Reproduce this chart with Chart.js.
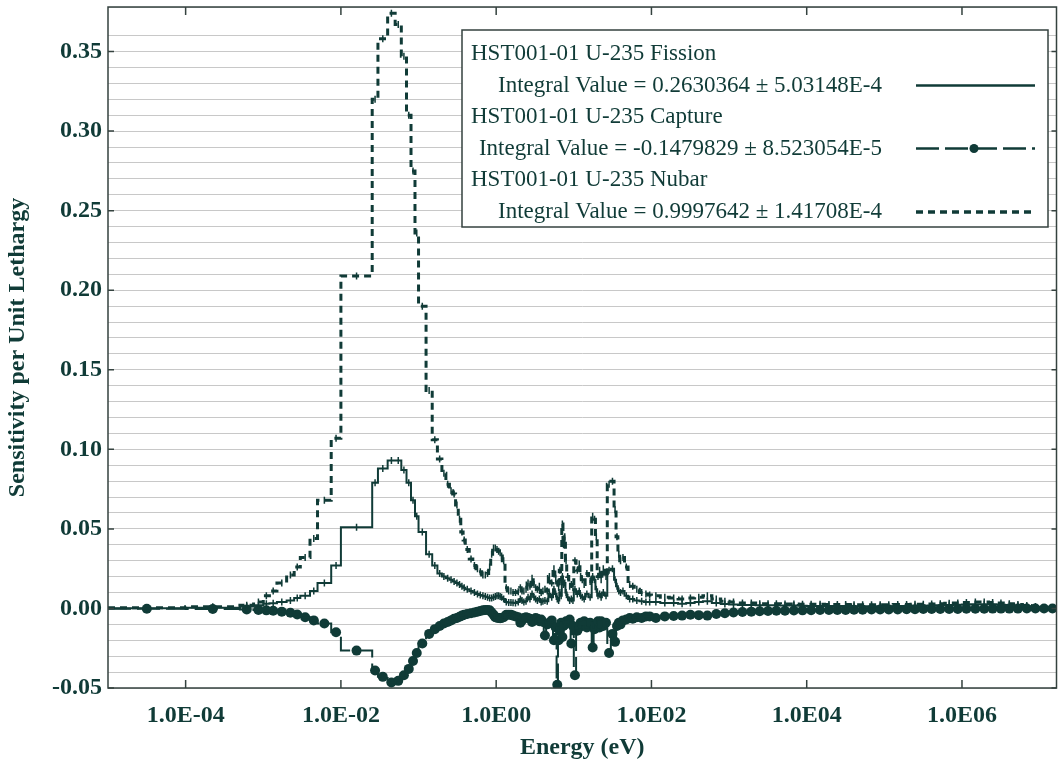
<!DOCTYPE html>
<html>
<head>
<meta charset="utf-8">
<title>HST001-01 U-235 Sensitivity</title>
<script src="https://cdn.jsdelivr.net/npm/chart.js@4.4.1/dist/chart.umd.min.js"></script>
<style>
  html, body { margin: 0; padding: 0; background: #ffffff; }
  #chart { display: block; }
</style>
</head>
<body>
<canvas id="chart" width="1062" height="767"></canvas>
<script>
// Energy group boundaries (eV)
const energyEdges = [
  1e-5, 1e-4, 5e-4, 7.5e-4, 1e-3, 1.2e-3, 1.5e-3, 2e-3, 2.5e-3, 3e-3,
  4e-3, 5e-3, 7.5e-3, 1e-2, 2.53e-2, 3e-2, 4e-2, 5e-2, 6e-2, 7e-2,
  8e-2, 9e-2, 0.1, 0.125, 0.15, 0.175, 0.2, 0.225, 0.25, 0.275,
  0.3, 0.325, 0.35, 0.375, 0.4, 0.45, 0.5, 0.55, 0.6, 0.65,
  0.7, 0.75, 0.8, 0.85, 0.9, 0.95, 1.0, 1.05, 1.1, 1.15,
  1.2, 1.3, 1.4, 1.5,
  1.6, 1.7, 1.85, 2.0, 2.1, 2.2, 2.35, 2.5, 2.65, 2.8,
  3.0, 3.15, 3.3, 3.5, 3.7, 3.9, 4.1, 4.4, 4.7, 5.0,
  5.4, 5.7, 6.0, 6.25, 6.5, 6.75, 7.0, 7.25, 7.5, 7.8,
  8.1, 8.6, 9.1, 9.5, 10, 10.7, 11.5, 12, 12.5, 13.2,
  14, 15.5, 17, 18, 19, 20, 21, 22, 23, 25,
  27, 30, 33, 35, 37, 39, 41, 45, 50, 55,
  60, 70, 80, 90, 100,
  130, 170, 220, 280, 360, 460, 600, 780, 1000, 1300,
  1700, 2200, 2800, 3600, 4600, 6000, 7800, 1e4, 1.3e4, 1.7e4,
  2.2e4, 2.8e4, 3.6e4, 4.6e4, 6e4, 7.8e4, 1e5, 1.3e5, 1.7e5, 2.2e5,
  2.8e5, 3.6e5, 4.6e5, 6e5, 7.8e5, 1e6, 1.3e6, 1.7e6, 2.2e6, 2.8e6,
  3.6e6, 4.6e6, 6e6, 7.8e6, 1e7, 1.3e7, 1.65e7
];

// Sensitivity per unit lethargy, one value per group
const fissionValues = [
  0.0002, 0.0005, 0.0012, 0.002, 0.003, 0.0032, 0.004, 0.005, 0.0065, 0.008,
  0.011, 0.016, 0.027, 0.051, 0.079, 0.088, 0.093, 0.093, 0.087, 0.079,
  0.068, 0.058, 0.048, 0.034, 0.027, 0.022, 0.020, 0.019, 0.018, 0.017,
  0.016, 0.015, 0.014, 0.013, 0.012, 0.011, 0.010, 0.009, 0.0085, 0.008,
  0.0075, 0.007, 0.0065, 0.0065, 0.007, 0.0075, 0.008, 0.008, 0.0075, 0.007,
  0.006, 0.004, 0.0038,
  0.0038, 0.0036, 0.0035, 0.004, 0.006, 0.005, 0.004, 0.0045, 0.007, 0.006,
  0.009, 0.007, 0.006, 0.005, 0.006, 0.004, 0.0045, 0.005, 0.0045, 0.009,
  0.007, 0.012, 0.009, 0.006, 0.005, 0.010, 0.008, 0.020, 0.015, 0.016,
  0.010, 0.007, 0.005, 0.006, 0.005, 0.012, 0.009, 0.011, 0.008, 0.007,
  0.006, 0.009, 0.007, 0.020, 0.018, 0.012, 0.008, 0.009, 0.007, 0.010,
  0.008, 0.024, 0.025, 0.018, 0.014, 0.011, 0.010, 0.011, 0.008, 0.006,
  0.006, 0.005, 0.0045, 0.004, 0.004,
  0.004, 0.0035, 0.0035, 0.003, 0.0035, 0.004, 0.0045, 0.0035, 0.0028, 0.0025,
  0.0022, 0.0022, 0.002, 0.002, 0.002, 0.0018, 0.0018, 0.0017, 0.0016, 0.0016,
  0.0015, 0.0015, 0.0015, 0.0014, 0.0014, 0.0014, 0.0014, 0.0014, 0.0015, 0.0015,
  0.0016, 0.0017, 0.0018, 0.002, 0.0021, 0.0023, 0.0025, 0.0027, 0.0027, 0.0026,
  0.0024, 0.0021, 0.0017, 0.0012, 0.0008, 0.0004, 0.0002
];

const captureValues = [
  -0.0002, -0.0004, -0.0006, -0.0009, -0.0012, -0.0015, -0.002, -0.0027, -0.0038, -0.0055,
  -0.0075, -0.0095, -0.015, -0.0265, -0.039, -0.043, -0.0465, -0.0455, -0.042, -0.038,
  -0.033, -0.028, -0.022, -0.016, -0.013, -0.011, -0.0095, -0.0085, -0.0075, -0.0065,
  -0.006, -0.0052, -0.0045, -0.004, -0.0035, -0.003, -0.0025, -0.002, -0.0016, -0.0012,
  -0.001, -0.001, -0.0012, -0.0025, -0.004, -0.0055, -0.0058, -0.006, -0.0062, -0.006,
  -0.0055, -0.004, -0.004,
  -0.004, -0.0045, -0.005, -0.0055, -0.009, -0.0075, -0.006, -0.0055, -0.006, -0.0065,
  -0.0085, -0.0075, -0.006, -0.0065, -0.008, -0.007, -0.0085, -0.017, -0.010, -0.009,
  -0.0075, -0.020, -0.012, -0.048, -0.020, -0.014, -0.009, -0.018, -0.011, -0.010,
  -0.008, -0.009, -0.007, -0.022, -0.011, -0.042, -0.014, -0.012, -0.009, -0.010,
  -0.008, -0.012, -0.009, -0.0245, -0.013, -0.010, -0.008, -0.012, -0.008, -0.011,
  -0.009, -0.028, -0.016, -0.021, -0.011, -0.009, -0.010, -0.0075, -0.007, -0.006,
  -0.0065, -0.0055, -0.006, -0.005, -0.005,
  -0.006, -0.005, -0.0048, -0.0045, -0.004, -0.0042, -0.0045, -0.0035, -0.003, -0.0025,
  -0.0022, -0.002, -0.0018, -0.0016, -0.0015, -0.0014, -0.0013, -0.0012, -0.0011, -0.001,
  -0.001, -0.0009, -0.0009, -0.0008, -0.0008, -0.0007, -0.0007, -0.0006, -0.0006, -0.0005,
  -0.0005, -0.0004, -0.0004, -0.0003, -0.0003, -0.0003, -0.0002, -0.0002, -0.0002, -0.0001,
  -0.0001, -0.0001, -0.0001, 0, 0, 0, 0
];

const nubarValues = [
  0.0004, 0.001, 0.002, 0.004, 0.008, 0.011, 0.016, 0.021, 0.026, 0.032,
  0.044, 0.068, 0.107, 0.209, 0.320, 0.358, 0.374, 0.367, 0.347, 0.310,
  0.275, 0.236, 0.190, 0.137, 0.106, 0.094, 0.085, 0.078, 0.074, 0.072,
  0.065, 0.056, 0.048, 0.043, 0.037, 0.031, 0.027, 0.025, 0.023, 0.021,
  0.021, 0.022, 0.026, 0.034, 0.038, 0.038, 0.037, 0.036, 0.035, 0.033,
  0.030, 0.013, 0.011,
  0.011, 0.010, 0.010, 0.0105, 0.013, 0.011, 0.011, 0.012, 0.016, 0.014,
  0.019, 0.015, 0.013, 0.012, 0.014, 0.010, 0.011, 0.012, 0.011, 0.020,
  0.016, 0.025, 0.019, 0.016, 0.013, 0.024, 0.018, 0.053, 0.040, 0.045,
  0.030, 0.020, 0.014, 0.015, 0.013, 0.030, 0.024, 0.028, 0.020, 0.018,
  0.015, 0.022, 0.017, 0.058, 0.056, 0.045, 0.020, 0.024, 0.018, 0.025,
  0.020, 0.078, 0.080, 0.062, 0.045, 0.034, 0.030, 0.032, 0.026, 0.015,
  0.014, 0.012, 0.010, 0.009, 0.0085,
  0.008, 0.007, 0.0065, 0.006, 0.0065, 0.007, 0.008, 0.006, 0.0045, 0.004,
  0.0035, 0.0035, 0.003, 0.003, 0.003, 0.0028, 0.0028, 0.0027, 0.0026, 0.0026,
  0.0025, 0.0025, 0.0025, 0.0024, 0.0024, 0.0024, 0.0024, 0.0024, 0.0025, 0.0025,
  0.0026, 0.0027, 0.0028, 0.003, 0.0032, 0.0035, 0.0038, 0.004, 0.004, 0.0038,
  0.0035, 0.003, 0.0025, 0.0018, 0.0012, 0.0006, 0.0003
];

const seriesLabels = [
  'HST001-01 U-235 Fission',
  'HST001-01 U-235 Capture',
  'HST001-01 U-235 Nubar'
];
const integralTexts = [
  'Integral Value = 0.2630364 \u00b1 5.03148E-4',
  'Integral Value = -0.1479829 \u00b1 8.523054E-5',
  'Integral Value = 0.9997642 \u00b1 1.41708E-4'
];

const xTickValues = [1e-4, 1e-2, 1, 1e2, 1e4, 1e6];
const xTickLabels = ['1.0E-04', '1.0E-02', '1.0E00', '1.0E02', '1.0E04', '1.0E06'];
const yTickValues = [-0.05, 0, 0.05, 0.10, 0.15, 0.20, 0.25, 0.30, 0.35];
const yTickLabels = ['-0.05', '0.00', '0.05', '0.10', '0.15', '0.20', '0.25', '0.30', '0.35'];

const INK = '#103b37';
const FRAME = '#34423f';
const GRID = '#c8c8c8';
const SERIF = "'Liberation Serif', 'Times New Roman', serif";

// histogram steps: a point on every group's lower edge, plus the top edge
function stepPoints(values) {
  const pts = values.map((v, i) => ({ x: energyEdges[i], y: v }));
  pts.push({ x: energyEdges[values.length], y: values[values.length - 1] });
  return pts;
}

// marker points at the lethargy midpoint of each group
function midPoints(values) {
  return values.map((v, i) => ({ x: Math.sqrt(energyEdges[i] * energyEdges[i + 1]), y: v }));
}

// frame with inward tick marks
const framePlugin = {
  id: 'frame',
  afterDatasetsDraw(chart) {
    const { ctx, chartArea: a, scales } = chart;
    ctx.save();
    ctx.strokeStyle = FRAME;
    ctx.lineWidth = 1.5;
    ctx.strokeRect(a.left, a.top, a.right - a.left, a.bottom - a.top);
    ctx.beginPath();
    yTickValues.forEach(v => {
      const y = scales.y.getPixelForValue(v);
      ctx.moveTo(a.left, y); ctx.lineTo(a.left + 6, y);
      ctx.moveTo(a.right, y); ctx.lineTo(a.right - 5, y);
    });
    xTickValues.forEach(v => {
      const x = scales.x.getPixelForValue(v);
      ctx.moveTo(x, a.bottom); ctx.lineTo(x, a.bottom - 8);
      ctx.moveTo(x, a.top); ctx.lineTo(x, a.top + 8);
    });
    ctx.stroke();
    ctx.restore();
  }
};

// boxed legend in the upper right corner
const legendPlugin = {
  id: 'legendBox',
  afterDraw(chart) {
    const ctx = chart.ctx;
    const box = { x: 462, y: 30, w: 586, h: 197 };
    const rowY = [54, 85.5, 117, 148.5, 180, 212];
    ctx.save();
    ctx.fillStyle = '#ffffff';
    ctx.fillRect(box.x, box.y, box.w, box.h);
    ctx.strokeStyle = FRAME;
    ctx.lineWidth = 1.5;
    ctx.strokeRect(box.x, box.y, box.w, box.h);

    ctx.fillStyle = INK;
    ctx.font = '23px ' + SERIF;
    ctx.textBaseline = 'middle';
    seriesLabels.forEach((label, i) => {
      ctx.textAlign = 'left';
      ctx.fillText(label, 471, rowY[i * 2]);
      ctx.textAlign = 'right';
      ctx.fillText(integralTexts[i], 882, rowY[i * 2 + 1]);
    });

    const x0 = 916, x1 = 1035;
    ctx.strokeStyle = INK;
    // fission sample
    ctx.lineWidth = 2.5;
    ctx.setLineDash([]);
    ctx.beginPath(); ctx.moveTo(x0, rowY[1]); ctx.lineTo(x1, rowY[1]); ctx.stroke();
    // capture sample
    ctx.setLineDash([23, 6]);
    ctx.beginPath(); ctx.moveTo(x0, rowY[3]); ctx.lineTo(x1, rowY[3]); ctx.stroke();
    ctx.setLineDash([]);
    ctx.beginPath(); ctx.arc(974, rowY[3], 4.5, 0, Math.PI * 2); ctx.fill();
    // nubar sample
    ctx.lineWidth = 3.5;
    ctx.setLineDash([7, 5]);
    ctx.beginPath(); ctx.moveTo(x0, rowY[5]); ctx.lineTo(x1, rowY[5]); ctx.stroke();
    ctx.restore();
  }
};

function renderChart() {
  Chart.defaults.font.family = SERIF;
  Chart.defaults.color = INK;

  const ctx = document.getElementById('chart').getContext('2d');
  new Chart(ctx, {
    type: 'line',
    data: {
      datasets: [
        {
          label: seriesLabels[0],
          data: stepPoints(fissionValues),
          stepped: 'before',
          borderColor: INK,
          borderWidth: 2,
          pointRadius: 0
        },
        {
          label: 'fission bars',
          data: midPoints(fissionValues),
          showLine: false,
          pointStyle: 'line',
          rotation: 90,
          pointRadius: 3.5,
          pointBorderWidth: 1.5,
          borderColor: INK
        },
        {
          label: seriesLabels[1],
          data: stepPoints(captureValues),
          stepped: 'before',
          borderColor: INK,
          borderWidth: 2,
          borderDash: [23, 6],
          pointRadius: 0
        },
        {
          label: 'capture markers',
          data: midPoints(captureValues),
          showLine: false,
          pointStyle: 'circle',
          pointRadius: 5,
          pointBorderWidth: 0,
          backgroundColor: INK,
          borderColor: INK
        },
        {
          label: seriesLabels[2],
          data: stepPoints(nubarValues),
          stepped: 'before',
          borderColor: INK,
          borderWidth: 3,
          borderDash: [7, 5],
          pointRadius: 0
        },
        {
          label: 'nubar bars',
          data: midPoints(nubarValues),
          showLine: false,
          pointStyle: 'line',
          rotation: 90,
          pointRadius: 3.5,
          pointBorderWidth: 1.5,
          borderColor: INK
        }
      ]
    },
    options: {
      responsive: false,
      animation: false,
      devicePixelRatio: 1,
      layout: { padding: { top: 7, right: 5, left: 0, bottom: 0 } },
      plugins: {
        legend: { display: false },
        tooltip: { enabled: false }
      },
      scales: {
        x: {
          type: 'logarithmic',
          min: 1e-5,
          max: 1.65e7,
          grid: { display: false, drawTicks: false },
          border: { display: false },
          ticks: {
            autoSkip: false,
            maxRotation: 0,
            padding: 13,
            color: INK,
            font: { size: 24, weight: 'bold' },
            callback: (value, index) => xTickLabels[index]
          },
          title: {
            display: true,
            text: 'Energy (eV)',
            color: INK,
            font: { size: 24, weight: 'bold' },
            padding: { top: 0, bottom: 5 }
          },
          afterBuildTicks: scale => {
            scale.ticks = xTickValues.map(v => ({ value: v }));
          },
          afterFit: scale => {
            scale.height = 79;
            scale.paddingLeft = 0;
            scale.paddingRight = 0;
          }
        },
        y: {
          min: -0.05,
          max: 0.378,
          grid: { color: GRID, lineWidth: 1, drawTicks: false },
          border: { display: false },
          ticks: {
            stepSize: 0.01,
            autoSkip: false,
            padding: 6,
            color: INK,
            font: { size: 24, weight: 'bold' },
            callback: value => {
              const i = yTickValues.findIndex(t => Math.abs(t - value) < 1e-6);
              return i >= 0 ? yTickLabels[i] : '';
            }
          },
          title: {
            display: true,
            text: 'Sensitivity per Unit Lethargy',
            color: INK,
            font: { size: 24, weight: 'bold' },
            padding: { top: 3, bottom: 0 }
          },
          afterFit: scale => {
            scale.width = 108;
            scale.paddingTop = 0;
            scale.paddingBottom = 0;
          }
        }
      }
    },
    plugins: [framePlugin, legendPlugin]
  });
}

window.onload = renderChart;
</script>
</body>
</html>
